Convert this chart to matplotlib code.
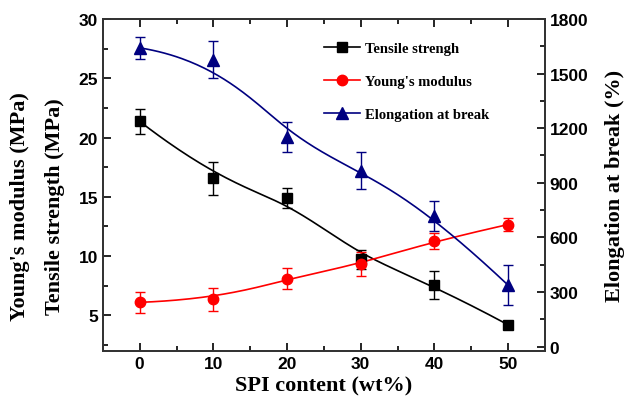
import numpy as np
import matplotlib
matplotlib.use("Agg")
import matplotlib.pyplot as plt
from matplotlib.ticker import MultipleLocator
from matplotlib.lines import Line2D

spi = [0, 10, 20, 30, 40, 50]
tensile = [21.36, 16.57, 14.88, 9.73, 7.56, 4.21]
tensile_err = [1.05, 1.4, 0.85, 0.8, 1.2, 0.2]
young = [6.1, 6.35, 8.1, 9.31, 11.28, 12.66]
young_err = [0.9, 1.0, 0.9, 1.0, 0.65, 0.57]
elong = [1641, 1576, 1150, 967, 718, 338]
elong_err = [60, 100, 83, 100, 83, 110]


def bspline(xs, ys, n=200):
    """Clamped uniform cubic B-spline with data points as control points."""
    P = np.column_stack([xs, ys]).astype(float)
    m = len(P)
    k = 3
    knots = np.concatenate([np.zeros(k), np.arange(m - k + 1), np.full(k, m - k)]).astype(float)
    ts = np.linspace(0, m - k, n)
    out = []
    for t in ts:
        if t >= knots[m]:
            j = m - 1
        else:
            j = np.searchsorted(knots, t, side='right') - 1
        d = [P[j - k + i].copy() for i in range(k + 1)]
        for r in range(1, k + 1):
            for i in range(k, r - 1, -1):
                idx = j - k + i
                denom = knots[idx + k + 1 - r] - knots[idx]
                a = 0 if denom == 0 else (t - knots[idx]) / denom
                d[i] = (1 - a) * d[i - 1] + a * d[i]
        out.append(d[k])
    out = np.array(out)
    return out[:, 0], out[:, 1]


serif = 'Liberation Serif'
sans = 'Liberation Sans'

fig = plt.figure(figsize=(6.27, 4.06), dpi=100)
ax = fig.add_axes([0.164, 0.133, 0.705, 0.818])
ax2 = ax.twinx()

black = '#000000'
red = '#FF0000'
navy = '#000080'

bx, by = bspline(spi, tensile)
ax.plot(bx, by, color=black, lw=1.2)
ax.errorbar(spi, tensile, yerr=tensile_err, fmt='s', color=black, ms=6.5,
            capsize=3.5, elinewidth=1, capthick=1)
bx, by = bspline(spi, young)
ax.plot(bx, by, color=red, lw=1.2)
ax.errorbar(spi, young, yerr=young_err, fmt='o', color=red, ms=7.5,
            capsize=3.5, elinewidth=1, capthick=1)
bx, by = bspline(spi, elong)
ax2.plot(bx, by, color=navy, lw=1.2)
ax2.errorbar(spi, elong, yerr=elong_err, fmt='^', color=navy, ms=8,
             capsize=3.5, elinewidth=1, capthick=1)

ax.set_xlim(-5, 55)
ax.set_ylim(2, 30)
ax2.set_ylim(-24, 1800)

ax.xaxis.set_major_locator(MultipleLocator(10))
ax.xaxis.set_minor_locator(MultipleLocator(5))
ax.yaxis.set_major_locator(MultipleLocator(5))
ax.yaxis.set_minor_locator(MultipleLocator(2.5))
ax2.yaxis.set_major_locator(MultipleLocator(300))
ax2.yaxis.set_minor_locator(MultipleLocator(150))

ax.tick_params(axis='x', which='both', direction='in', top=True)
ax.tick_params(axis='y', which='both', direction='in', right=False)
ax.tick_params(which='major', length=6, width=1.2, labelsize=12.5)
ax.tick_params(which='minor', length=3.5, width=1.2)
ax2.tick_params(which='both', direction='in')
ax2.tick_params(which='major', length=6, width=1.2, labelsize=12.5)
ax2.tick_params(which='minor', length=3.5, width=1.2)

for a in (ax, ax2):
    for lab in a.get_xticklabels() + a.get_yticklabels():
        lab.set_fontfamily(sans)
        lab.set_fontweight('bold')
    for s in a.spines.values():
        s.set_linewidth(1.3)
        s.set_color('#333333')

ax.set_xlabel('SPI content (wt%)', fontfamily=serif, fontweight='bold', fontsize=16, labelpad=3)
ax2.set_ylabel('Elongation at break (%)', fontfamily=serif, fontweight='bold', fontsize=16, labelpad=12)
fig.text(0.032, 0.49, "Young's modulus (MPa)", rotation=90, ha='center', va='center',
         fontfamily=serif, fontweight='bold', fontsize=16)
fig.text(0.088, 0.49, "Tensile strength (MPa)", rotation=90, ha='center', va='center',
         fontfamily=serif, fontweight='bold', fontsize=16)

handles = [
    Line2D([], [], color=black, marker='s', ms=6.5, lw=1.2),
    Line2D([], [], color=red, marker='o', ms=7.5, lw=1.2),
    Line2D([], [], color=navy, marker='^', ms=8, lw=1.2),
]
ax.legend(handles, ['Tensile strengh', "Young's modulus", 'Elongation at break'],
          loc='upper left', bbox_to_anchor=(0.47, 0.97), frameon=False,
          prop={'family': serif, 'weight': 'bold', 'size': 10.5},
          handlelength=2.5, labelspacing=1.35, handletextpad=0.3)

fig.savefig('out.png', dpi=100)
